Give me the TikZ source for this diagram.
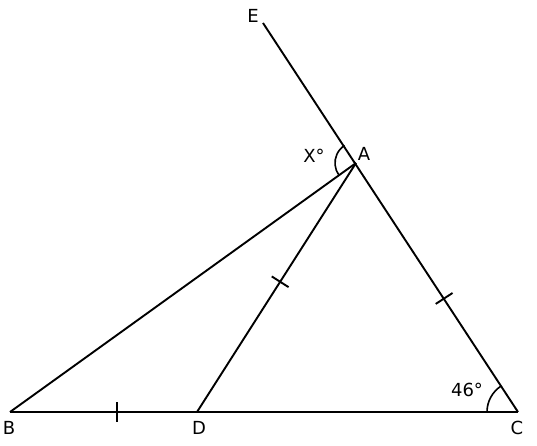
\documentclass[tikz,border=0pt]{standalone}
\usepackage{fontspec}
\setmainfont{DejaVu Sans}
\usetikzlibrary{calc}
\begin{document}
\begin{tikzpicture}[x=1pt,y=-1pt,
  seg/.style={line width=1.9pt},
  lbl/.style={font=\fontsize{18}{20}\selectfont,inner sep=0pt,anchor=center},
  tick/.style={line width=1.9pt},
  angarc/.style={line width=1.6pt}]
\useasboundingbox (0,0) rectangle (537,446);
\coordinate (B) at (10,412);
\coordinate (D) at (197,412);
\coordinate (C) at (518,412);
\coordinate (A) at (356,163);
\coordinate (E) at (263,23);
\draw[seg] (B) -- (C);
\draw[seg] (C) -- (E);
\draw[seg] (B) -- (A);
\draw[seg] (D) -- (A);
% angle arcs
\draw[angarc] ([shift={(144.2:21)}]A) arc[start angle=144.2,end angle=236.9,radius=21];
\draw[angarc] ([shift={(180:31)}]C) arc[start angle=180,end angle=236.8,radius=31];
% ticks
\coordinate (t1) at ($(B)!0.572!(D)$);
\coordinate (t2) at ($(A)!0.477!(D)$);
\coordinate (t3) at ($(A)!0.544!(C)$);
\draw[tick] ($(t1)!10pt!90:(D)$) -- ($(t1)!10pt!-90:(D)$);
\draw[tick] ($(t2)!10pt!90:(D)$) -- ($(t2)!10pt!-90:(D)$);
\draw[tick] ($(t3)!10pt!90:(C)$) -- ($(t3)!10pt!-90:(C)$);
% labels
\node[lbl] (lE) at (253,16) {E};
\node[lbl] (lA) at (364,154) {A};
\node[lbl] (lX) at (314,156) {X°};
\node[lbl] (l46) at (467,390) {46°};
\node[lbl] (lB) at (9,428) {B};
\node[lbl] (lD) at (199,428) {D};
\node[lbl] (lC) at (517,428) {C};
\end{tikzpicture}
\end{document}
